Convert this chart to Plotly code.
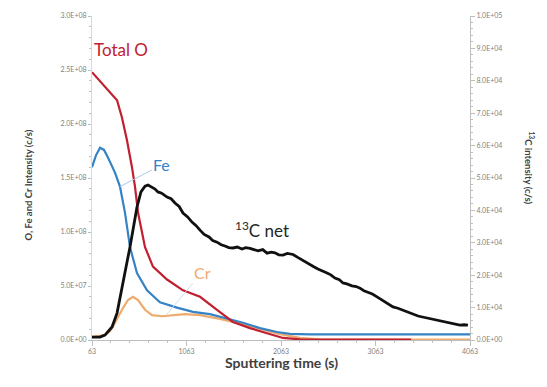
import plotly.graph_objects as go

# ---- data ----
time_o = [63, 200, 328, 380, 433, 486, 518, 550, 624, 708, 857, 1026, 1206, 1386, 1555,
          1735, 1915, 2084, 2264, 2500, 3000, 3440]
total_o = [2.48e8, 2.35e8, 2.22e8, 2.06e8, 1.85e8, 1.60e8, 1.42e8, 1.18e8, 8.6e7, 6.8e7,
           5.6e7, 4.6e7, 4.0e7, 2.8e7, 1.67e7, 1.1e7, 6.5e6, 1.9e6, 6e5, 4e5, 3e5, 3e5]

time_fe = [63, 105, 148, 190, 232, 306, 359, 412, 465, 539, 645, 782, 962, 1131, 1311,
           1491, 1660, 1840, 2020, 2158, 2370, 3000, 3600, 4063]
fe = [1.60e8, 1.71e8, 1.78e8, 1.76e8, 1.69e8, 1.55e8, 1.42e8, 1.18e8, 8.6e7, 6.2e7,
      4.6e7, 3.5e7, 3.0e7, 2.6e7, 2.4e7, 2.0e7, 1.6e7, 1.1e7, 7.4e6, 5.6e6, 5.3e6,
      5.2e6, 5.2e6, 5.2e6]

time_cr = [63, 200, 253, 306, 380, 444, 497, 550, 624, 698, 804, 910, 1047, 1206, 1417,
           1629, 1840, 2052, 2264, 2475, 3000, 3600, 4063]
cr = [2.8e6, 4.6e6, 8e6, 1.57e7, 2.8e7, 3.7e7, 4.0e7, 3.7e7, 2.8e7, 2.3e7, 2.2e7, 2.3e7,
      2.4e7, 2.3e7, 1.95e7, 1.5e7, 1.0e7, 5.5e6, 1.9e6, 6e5, 4e5, 4e5, 4e5]

time_c = [63, 148, 200, 275, 328, 359, 391, 433, 465, 507, 539, 581, 624, 656, 698, 730, 761,
          800, 857, 900, 941, 985, 1026, 1075, 1121, 1165, 1206, 1250, 1301, 1340, 1386, 1430,
          1470, 1510, 1555, 1600, 1650, 1690, 1735, 1780, 1820, 1870, 1915, 1960, 1999, 2040,
          2084, 2130, 2190, 2240, 2285, 2330, 2370, 2410, 2454, 2500, 2550, 2590, 2634, 2680,
          2719, 2760, 2814, 2860, 2899, 2940, 2984, 3030, 3079, 3120, 3163, 3210, 3248, 3300,
          3343, 3390, 3428, 3470, 3513, 3560, 3607, 3650, 3692, 3735, 3776, 3820, 3871, 3910,
          3956, 4000, 4041]
c13 = [900, 900, 1500, 4000, 8300, 13300, 18500, 24000, 28700, 36400, 41000, 45700, 47500,
       47800, 47200, 46600, 45700, 45300, 44100, 43600, 42300, 41200, 39200, 38000, 36400,
       35300, 33900, 32600, 31800, 30700, 30200, 29400, 29000, 28500, 28400, 28700, 28100,
       28500, 28300, 27800, 27500, 27900, 26800, 27100, 26900, 26300, 26200, 26700, 26400,
       25500, 24700, 24000, 23100, 22600, 21900, 21400, 20700, 20100, 19100, 18600, 17600,
       17300, 16700, 16500, 16000, 15200, 14800, 14200, 13300, 12600, 11700, 11000, 10200,
       9800, 9300, 8900, 8300, 7800, 7400, 7100, 6800, 6500, 6200, 5900, 5600, 5500, 5200,
       4800, 4600, 4700, 4600]

x_ticks = [63, 1063, 2063, 3063, 4063]
left_ticks = [0, 5e7, 1e8, 1.5e8, 2e8, 2.5e8, 3e8]
right_ticks = [0, 1e4, 2e4, 3e4, 4e4, 5e4, 6e4, 7e4, 8e4, 9e4, 1e5]

RED = "#C0202F"
BLUE = "#3583C4"
ORANGE = "#EFAA6E"
BLACK = "#111111"
FONT = "Lato"

fig = go.Figure()
fig.add_trace(go.Scatter(x=time_cr, y=cr, mode="lines", line=dict(color=ORANGE, width=2.2), name="Cr"))
fig.add_trace(go.Scatter(x=time_fe, y=fe, mode="lines", line=dict(color=BLUE, width=2.2), name="Fe"))
fig.add_trace(go.Scatter(x=time_o, y=total_o, mode="lines", line=dict(color=RED, width=2.2), name="Total O"))
fig.add_trace(go.Scatter(x=time_c, y=c13, mode="lines", line=dict(color=BLACK, width=2.8),
                         name="13C net", yaxis="y2"))

tickfont = dict(family=FONT, size=7, color="#7F7F7F")
fig.update_layout(
    width=547, height=387,
    margin=dict(l=92, r=77, t=16, b=47),
    paper_bgcolor="white", plot_bgcolor="white",
    showlegend=False,
    font=dict(family=FONT),
    xaxis=dict(range=[63, 4063], tickvals=x_ticks, ticktext=[str(v) for v in x_ticks],
               showgrid=False, zeroline=False, showline=True, linecolor="#BFBFBF", linewidth=1,
               ticks="outside", ticklen=5, tickcolor="#BFBFBF", tickfont=tickfont,
               minor=dict(ticks="outside", ticklen=2, dtick=200, tick0=63, tickcolor="#BFBFBF")),
    yaxis=dict(range=[0, 3e8], tickvals=left_ticks, ticktext=[f"{v:.1E}" for v in left_ticks],
               showgrid=False, zeroline=False, showline=True, linecolor="#D9D9D9", linewidth=1,
               ticks="outside", ticklen=3, tickcolor="#BFBFBF", tickfont=tickfont,
               minor=dict(ticks="outside", ticklen=2, dtick=1e7, tickcolor="#BFBFBF")),
    yaxis2=dict(range=[0, 1e5], overlaying="y", side="right", tickvals=right_ticks,
                ticktext=[f"{v:.1E}" for v in right_ticks],
                showgrid=False, zeroline=False, showline=True, linecolor="#BFBFBF", linewidth=1,
                ticks="outside", ticklen=4, tickcolor="#BFBFBF", tickfont=tickfont,
                minor=dict(ticks="outside", ticklen=2, dtick=2e3, tickcolor="#BFBFBF")),
)

title_font = dict(family=FONT, size=9.5, color="#404040")
# axis titles placed in pixels relative to the plot area (378 x 324 px)
fig.add_annotation(xref="paper", yref="paper", x=(281 - 92) / 378, y=-(373 - 340) / 324,
                   showarrow=False, text="<b>Sputtering time (s)</b>",
                   font=dict(family=FONT, size=14, color="#404040"))
fig.add_annotation(xref="paper", yref="paper", x=(20 - 92) / 378, y=(340 - 185) / 324,
                   showarrow=False, textangle=-90, text="<b>O, Fe and Cr Intensity (c/s)</b>",
                   font=title_font)
fig.add_annotation(xref="paper", yref="paper", x=(538 - 92) / 378, y=(340 - 168) / 324,
                   showarrow=False, textangle=90, text="<b><sup>13</sup>C intensity (c/s)</b>",
                   font=title_font)

# series labels
fig.add_annotation(x=time_o[0], y=3e8, xref="x", yref="y", xanchor="left", yanchor="top",
                   yshift=-21, showarrow=False, text="Total O",
                   font=dict(family=FONT, size=17, color=RED))
fig.add_annotation(x=time_fe[6], y=fe[6], xref="x", yref="y", ax=42, ay=-22, showarrow=True,
                   arrowhead=0, arrowwidth=1, arrowcolor="#A9CBE8", text="Fe",
                   font=dict(family=FONT, size=16, color=BLUE))
fig.add_annotation(x=time_cr[12] - 190, y=cr[12], xref="x", yref="y", ax=35, ay=-42, showarrow=True,
                   arrowhead=0, arrowwidth=1, arrowcolor="#CFE0F0", text="Cr",
                   font=dict(family=FONT, size=16, color=ORANGE))
fig.add_annotation(x=time_c[34], y=c13[34], xref="x", yref="y2", xanchor="left", yanchor="bottom",
                   yshift=5, showarrow=False, text="<sup>13</sup>C net",
                   font=dict(family=FONT, size=17, color="#262626"))

fig.write_html("out.html")
